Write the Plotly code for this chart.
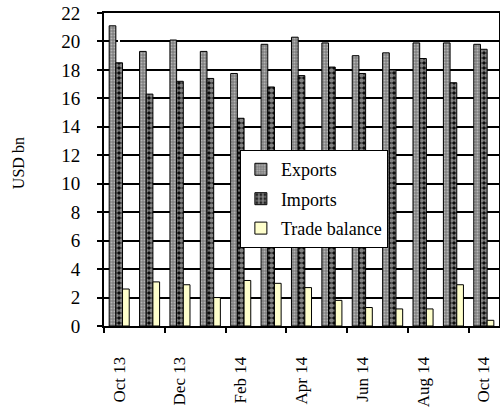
import plotly.graph_objects as go

months = ["Oct 13", "Nov 13", "Dec 13", "Jan 14", "Feb 14", "Mar 14", "Apr 14",
          "May 14", "Jun 14", "Jul 14", "Aug 14", "Sep 14", "Oct 14"]
exports = [21.1, 19.3, 20.1, 19.3, 17.75, 19.8, 20.3, 19.9, 19.0, 19.2, 19.9, 19.9, 19.8]
imports = [18.5, 16.3, 17.2, 17.4, 14.6, 16.8, 17.6, 18.2, 17.75, 18.0, 18.8, 17.1, 19.45]
balance = [2.6, 3.1, 2.9, 2.0, 3.2, 3.0, 2.7, 1.8, 1.3, 1.2, 1.2, 2.9, 0.4]
yticks = list(range(0, 23, 2))

x = list(range(len(months)))
font = "Liberation Serif, Times New Roman, serif"
clear = "rgba(0,0,0,0)"

fig = go.Figure()
fig.add_trace(go.Bar(
    x=x, y=exports, name="Exports", legendgroup="a",
    marker=dict(color="#888888", line=dict(color="black", width=1),
                pattern=dict(shape=".", fgcolor="#ececec", bgcolor="#808080", size=3, solidity=0.35)),
))
fig.add_trace(go.Bar(
    x=x, y=imports, name="Imports", legendgroup="b",
    marker=dict(color="black", line=dict(color="black", width=1),
                pattern=dict(shape=".", fgcolor="white", bgcolor="black", size=5, solidity=0.7)),
))
fig.add_trace(go.Bar(
    x=x, y=balance, name="Trade balance", legendgroup="c",
    marker=dict(color="#FFFFCC", line=dict(color="black", width=1)),
))
# invisible helper traces carrying the extra (tick-only / label-only) axes
fig.add_trace(go.Scatter(x=[-0.5, 12.5], y=[0, 0], xaxis="x2", yaxis="y", mode="lines",
                         line=dict(width=0), showlegend=False, hoverinfo="skip"))
fig.add_trace(go.Scatter(x=[-0.5, 12.5], y=[0, 0], xaxis="x", yaxis="y2", mode="lines",
                         line=dict(width=0), showlegend=False, hoverinfo="skip"))

fig.update_layout(
    width=500, height=415,
    margin=dict(l=104, r=1, t=13, b=89, autoexpand=False),
    paper_bgcolor="white", plot_bgcolor="white",
    barmode="group", bargap=0.34, bargroupgap=0,
    font=dict(family=font, size=18, color="black"),
    showlegend=True,
    legend=dict(x=0.344, y=0.562, xanchor="left", yanchor="top",
                bgcolor="white", bordercolor="black", borderwidth=1,
                font=dict(family=font, size=18), tracegroupgap=3, itemwidth=30),
    # x: labels at category centres (transparent ticks push labels down)
    xaxis=dict(range=[-0.5, 12.5], tickmode="array", tickvals=x[::2],
               ticktext=months[::2], tickangle=-90, ticks="outside",
               ticklen=22, tickcolor=clear, showgrid=False,
               showline=True, linecolor="black", linewidth=2, mirror=True,
               automargin=False, tickfont=dict(family=font, size=17)),
    # x2: visible tick marks at category boundaries
    xaxis2=dict(range=[-0.5, 12.5], overlaying="x", side="bottom", anchor="y",
                tickmode="array", tickvals=[i - 0.5 for i in x[::2]],
                showticklabels=False, ticks="outside", ticklen=6, tickwidth=2,
                tickcolor="black", showgrid=False, showline=False, automargin=False),
    # y: grid + short visible ticks
    yaxis=dict(range=[0, 22], tickmode="array", tickvals=yticks,
               ticks="outside", ticklen=5, tickwidth=2, tickcolor="black",
               showticklabels=False,
               showgrid=True, gridcolor="black", gridwidth=2,
               showline=True, linecolor="black", linewidth=2, mirror=True,
               zeroline=False, automargin=False),
    # y2: tick labels pushed out by transparent ticks
    yaxis2=dict(range=[0, 22], overlaying="y", side="left", anchor="x",
                tickmode="array", tickvals=yticks, ticks="outside", ticklen=19,
                tickcolor=clear, showgrid=False, showline=False, zeroline=False,
                automargin=False, tickfont=dict(family=font, size=19)),
    annotations=[dict(text="USD bn", textangle=-90, xref="paper", yref="paper",
                      x=-0.218, y=0.52, xanchor="center", yanchor="middle",
                      showarrow=False, font=dict(family=font, size=16))],
)

fig.write_html("out.html", config={"displayModeBar": False},
               post_script="document.body.style.margin='0';")
